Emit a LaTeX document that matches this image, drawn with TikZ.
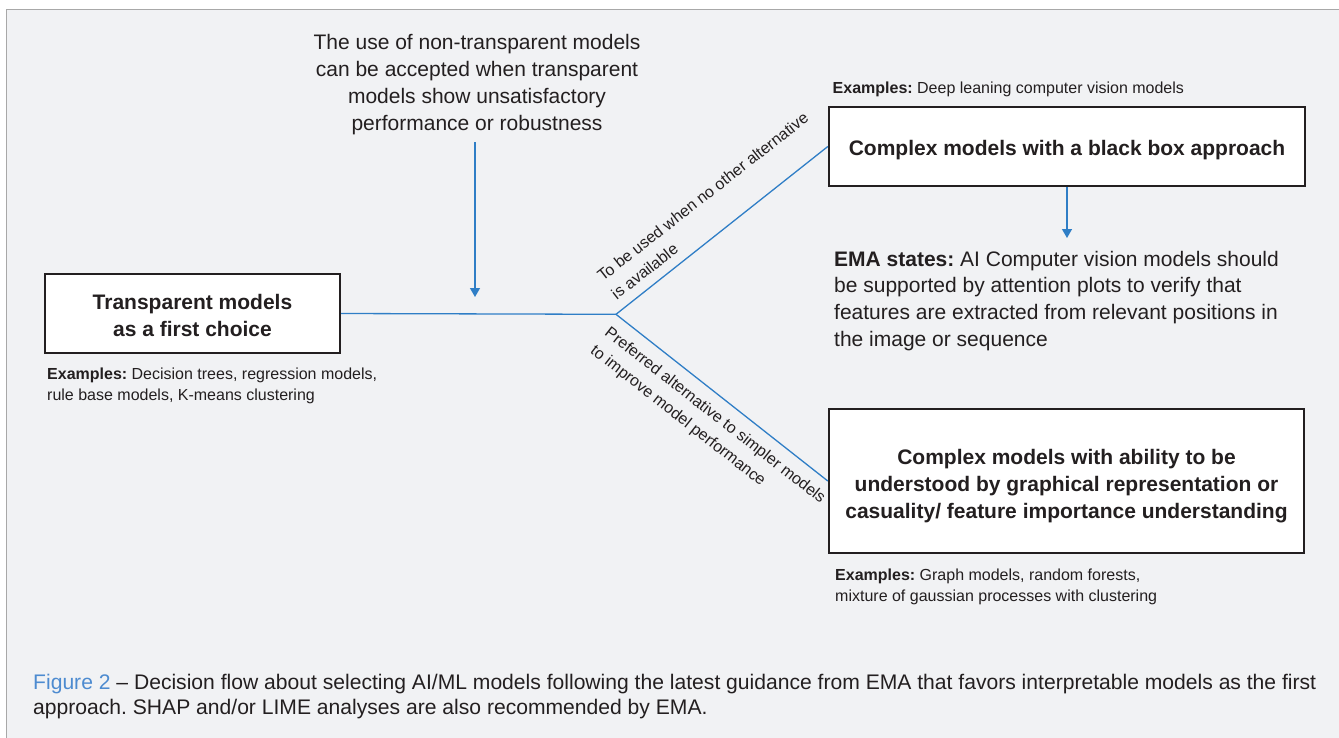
\documentclass[tikz,border=0pt]{standalone}
\usepackage{fontspec}
\setmainfont{Liberation Sans}
\usetikzlibrary{arrows.meta}
\frenchspacing
\definecolor{panel}{HTML}{F1F2F4}
\definecolor{ink}{HTML}{231F20}
\definecolor{flow}{HTML}{2F7EC6}
\definecolor{figblue}{HTML}{4D8BD0}
\definecolor{framegray}{HTML}{A8A8A8}
\begin{document}
\begin{tikzpicture}[x=1pt,y=-1pt,
  modelbox/.style={draw=ink,line width=2.4pt,fill=white,align=center,text=ink,inner sep=0,
    font=\fontsize{21}{26.7}\selectfont\bfseries},
  flowline/.style={draw=flow,line width=1.3pt},
  flowarrow/.style={flowline,-{Triangle[width=10pt,length=9pt]}},
  bigtext/.style={text=ink,inner sep=0,font=\fontsize{21}{26.8}\selectfont},
  extext/.style={text=ink,inner sep=0,align=left,font=\fontsize{16}{21}\selectfont},
  pathlabel/.style={text=ink,inner sep=0,align=left,font=\fontsize{16}{23}\selectfont},
  captext/.style={text=ink,inner sep=0,align=left,font=\fontsize{21.1}{25}\selectfont}
]
\useasboundingbox (0,0) rectangle (1339,737);
\fill[white] (0,0) rectangle (1339,737);
\fill[panel] (6.5,9.5) rectangle (1345,745);
\draw[framegray,line width=1.5pt] (6.5,745) -- (6.5,9.5) -- (1345,9.5);

% boxes
\node[modelbox,minimum width=295pt,minimum height=79pt] (transp) at (192.5,313.5)
  {\rule{0pt}{19.3pt}Transparent models\\as a first choice};
\node[modelbox,minimum width=476pt,minimum height=79pt] (blackbox) at (1067,146.5)
  {\rule{0pt}{23pt}Complex models with a black box approach};
\node[modelbox,minimum width=475pt,minimum height=144pt] (graphical) at (1066.5,481)
  {\rule{0pt}{25.5pt}Complex models with ability to be\\understood by graphical representation or\\casuality/ feature importance understanding};

% examples
\node[extext,anchor=north west] (ex1) at (47,367.5)
  {\textbf{Examples:} Decision trees, regression models,\\rule base models, K-means clustering};
\node[extext,anchor=north west] (ex2) at (832.5,81.5)
  {\textbf{Examples:} Deep leaning computer vision models};
\node[extext,anchor=north west] (ex3) at (835,569)
  {\textbf{Examples:} Graph models, random forests,\\mixture of gaussian processes with clustering};

% top note
\node[bigtext,align=center,anchor=north] (note) at (477,34.5)
  {The use of non-transparent models\\can be accepted when transparent\\models show unsatisfactory\\performance or robustness};

% EMA statement
\node[bigtext,align=left,anchor=north west] (ema) at (834,250.7)
  {\textbf{EMA states:} AI Computer vision models should\\be supported by attention plots to verify that\\features are extracted from relevant positions in\\the image or sequence};

% flow
\coordinate (br) at (616,314.3);
\coordinate (notestart) at (475,142);
\coordinate (noteend) at (475,297);
\draw[flowline] (transp.east) -- (br);
\draw[flowline] (br) -- (blackbox.west);
\draw[flowline] (br) -- (graphical.west);
\draw[flowarrow] (notestart) -- (noteend);
\coordinate (emaarrow) at (1067,238);
\draw[flowarrow] (blackbox.south) -- (emaarrow);

% path labels
\node[pathlabel,rotate=38,anchor=south west] (lab1) at (617,300.5)
  {To be used when no other alternative\\is available};
\node[pathlabel,rotate=-38,anchor=north west] (lab2) at (611,325.3)
  {Preferred alternative to simpler models\\to improve model performance};

% caption
\node[captext,anchor=north west] (caption) at (33,673.9)
  {\textcolor{figblue}{Figure 2} -- Decision flow about selecting AI/ML models following the latest guidance from EMA that favors interpretable models as the first\\approach. SHAP and/or LIME analyses are also recommended by EMA.};
\end{tikzpicture}
\end{document}
